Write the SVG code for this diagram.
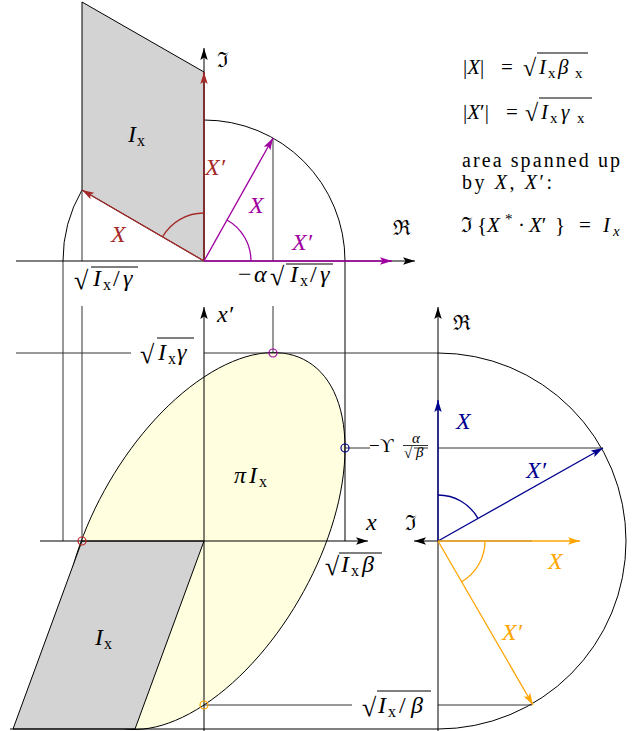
<svg xmlns="http://www.w3.org/2000/svg" width="639" height="731" viewBox="0 0 639 731">
<style>
text{font-family:"Liberation Serif","DejaVu Serif",serif;font-size:24px;fill:#000}
.f{font-size:21px}
.i{font-style:italic}
.s{font-size:16px}
.fs{font-size:15px}
.rt{font-size:26px}
.fr{font-family:"DejaVu Serif","Liberation Serif",serif;font-size:21px}
.ax{stroke:#000;stroke-width:1;fill:none}
.cn{stroke:#333;stroke-width:1;fill:none}
.bar{stroke:#000;stroke-width:1.1}
.red{stroke:#a52a2a;stroke-width:1.3;fill:none}
.pur{stroke:#a000a0;stroke-width:1.3;fill:none}
.blu{stroke:#000090;stroke-width:1.3;fill:none}
.org{stroke:#ffa500;stroke-width:1.3;fill:none}
</style>
<defs>
<marker id="mk" viewBox="0 0 12 8" markerWidth="12" markerHeight="8" refX="12" refY="4" orient="auto" markerUnits="userSpaceOnUse"><path d="M0,0.3 L12,4 L0,7.7 L2.5,4 z" fill="#000"/></marker>
<marker id="mr" viewBox="0 0 12 8" markerWidth="12" markerHeight="8" refX="12" refY="4" orient="auto" markerUnits="userSpaceOnUse"><path d="M0,0.3 L12,4 L0,7.7 L2.5,4 z" fill="#a52a2a"/></marker>
<marker id="mp" viewBox="0 0 12 8" markerWidth="12" markerHeight="8" refX="12" refY="4" orient="auto" markerUnits="userSpaceOnUse"><path d="M0,0.3 L12,4 L0,7.7 L2.5,4 z" fill="#a000a0"/></marker>
<marker id="mb" viewBox="0 0 12 8" markerWidth="12" markerHeight="8" refX="12" refY="4" orient="auto" markerUnits="userSpaceOnUse"><path d="M0,0.3 L12,4 L0,7.7 L2.5,4 z" fill="#000090"/></marker>
<marker id="mo" viewBox="0 0 12 8" markerWidth="12" markerHeight="8" refX="12" refY="4" orient="auto" markerUnits="userSpaceOnUse"><path d="M0,0.3 L12,4 L0,7.7 L2.5,4 z" fill="#ffa500"/></marker>
</defs>

<g id="top-phasor">
<polygon points="204,261 82,190 82,2 204,72" fill="#d3d3d3" stroke="#000" stroke-width="1"/>
<path class="ax" d="M204,120 A141,141 0 0 1 345,261"/>
<path class="ax" d="M82,190 A141,141 0 0 0 63,261"/>
</g>

<g id="ellipse">
<path d="M345,448.2 C345,538.78 281.87,653.75 204,705 C126.13,756.25 63,724.38 63,633.8 C63,543.22 126.13,428.25 204,377 C281.87,325.75 345,357.62 345,448.2 Z" fill="#ffffe0" stroke="#000" stroke-width="1"/>
<polygon points="204,541 82,541 13,729 135,729" fill="#d3d3d3" stroke="#000" stroke-width="1"/>
</g>

<g id="right-phasor">
<path class="ax" d="M438,353 A188,188 0 0 1 626,541 A188,188 0 0 1 438,729"/>
</g>

<g id="connectors">
<line class="cn" x1="63" y1="261" x2="63" y2="541"/>
<line class="cn" x1="82" y1="190" x2="82" y2="261"/>
<line class="cn" x1="82" y1="306" x2="82" y2="541"/>
<line class="cn" x1="273" y1="138" x2="273" y2="261"/>
<line class="cn" x1="273" y1="306" x2="273" y2="353"/>
<line class="ax" x1="345" y1="261" x2="345" y2="541"/>
<line class="cn" x1="16" y1="353" x2="131" y2="353"/>
<line class="cn" x1="204" y1="353" x2="438" y2="353"/>
<line class="cn" x1="345" y1="448" x2="370" y2="448"/>
<line class="cn" x1="438" y1="448" x2="603" y2="448"/>
<line class="cn" x1="204" y1="705" x2="352" y2="705"/>
<line class="cn" x1="438" y1="705" x2="532" y2="705"/>
<line class="ax" x1="10" y1="729" x2="438" y2="729"/>
<line class="ax" x1="16" y1="261" x2="415" y2="261" marker-end="url(#mk)"/>
<line class="ax" x1="204" y1="261" x2="204" y2="48" marker-end="url(#mk)"/>
<line class="pur" x1="204" y1="261" x2="392" y2="261" marker-end="url(#mp)"/>
<line class="red" x1="204" y1="261" x2="204" y2="72" marker-end="url(#mr)"/>
<line class="red" x1="204" y1="261" x2="82" y2="190" marker-end="url(#mr)"/>
<path class="red" d="M204,213 A48,48 0 0 0 162.5,236.8"/>
<line class="pur" x1="204" y1="261" x2="273" y2="138" marker-end="url(#mp)"/>
<path class="pur" d="M251,261 A47,47 0 0 0 227,220"/>
<line class="ax" x1="40" y1="541" x2="368" y2="541" marker-end="url(#mk)"/>
<line class="ax" x1="204" y1="731" x2="204" y2="307" marker-end="url(#mk)"/>
<line class="ax" x1="438" y1="731" x2="438" y2="307" marker-end="url(#mk)"/>
<line class="ax" x1="438" y1="541" x2="414" y2="541" marker-end="url(#mk)"/>
<line class="blu" x1="438" y1="541" x2="438" y2="400" marker-end="url(#mb)"/>
<line class="blu" x1="438" y1="541" x2="603" y2="448" marker-end="url(#mb)"/>
<path class="blu" d="M438,495 A46,46 0 0 1 478,518.4"/>
<line class="org" x1="438" y1="541" x2="580" y2="541" marker-end="url(#mo)"/>
<line x1="438" y1="541" x2="532" y2="541" stroke="#000" stroke-opacity="0.15" stroke-width="1.3"/>
<line class="org" x1="438" y1="541" x2="533" y2="705" marker-end="url(#mo)"/>
<path class="org" d="M485,541 A47,47 0 0 1 461.6,581.7"/>
<circle cx="82" cy="541" r="4" fill="none" stroke="#c02020" stroke-width="1.2"/>
<circle cx="273" cy="353" r="4" fill="none" stroke="#a000a0" stroke-width="1.2"/>
<circle cx="345" cy="448" r="4" fill="none" stroke="#000090" stroke-width="1.2"/>
<circle cx="204" cy="705" r="4" fill="none" stroke="#ffa500" stroke-width="1.2"/>
</g>

<g id="labels">
<text x="463" y="74" class="f">|<tspan class="i">X</tspan>|</text>
<text x="501" y="74" class="f">=</text>
<text x="523" y="76" style="font-size:24px">√</text>
<line class="bar" x1="537" y1="53" x2="588" y2="53"/>
<text x="539" y="74" class="f i">I</text><text x="548" y="78" class="fs">x</text>
<text x="558" y="74" class="f i">β</text><text x="575" y="78" class="fs">x</text>

<text x="463" y="119" class="f">|<tspan class="i">X</tspan>′|</text>
<text x="506" y="119" class="f">=</text>
<text x="525" y="121" style="font-size:24px">√</text>
<line class="bar" x1="539" y1="98" x2="592" y2="98"/>
<text x="541" y="119" class="f i">I</text><text x="550" y="123" class="fs">x</text>
<text x="561" y="119" class="f i">γ</text><text x="577" y="123" class="fs">x</text>

<text x="462" y="167" style="font-size:20px" textLength="158" lengthAdjust="spacing">area spanned up</text>
<text x="462" y="189" style="font-size:20px" textLength="90" lengthAdjust="spacing">by <tspan class="i">X</tspan>, <tspan class="i">X</tspan>′:</text>

<text x="461" y="232" class="fr">ℑ</text>
<text x="477" y="232" class="f">{</text>
<text x="487" y="232" class="f i">X</text>
<text x="505" y="224" class="fs">*</text>
<text x="518" y="232" class="f">·</text>
<text x="529" y="232" class="f"><tspan class="i">X</tspan>′</text>
<text x="555" y="232" class="f">}</text>
<text x="579" y="232" class="f">=</text>
<text x="603" y="232" class="f i">I</text><text x="613" y="236" class="fs i">x</text>

<text x="128" y="142" class="i">I</text><text x="137" y="146" class="s">x</text>
<text x="217" y="67" class="fr">ℑ</text>
<text x="393" y="235" class="fr">ℜ</text>
<text x="205" y="175" class="i" style="fill:#a52a2a">X′</text>
<text x="111" y="242" class="i" style="fill:#a52a2a">X</text>
<text x="249" y="213" class="i" style="fill:#a000a0">X</text>
<text x="292" y="250" class="i" style="fill:#a000a0">X′</text>

<text x="74" y="289" class="rt">√</text>
<line class="bar" x1="91" y1="267" x2="138" y2="267"/>
<text x="93" y="286" class="i">I</text><text x="103" y="290" class="s">x</text>
<text x="113" y="286">/</text><text x="123" y="286" class="i">γ</text>

<text x="238" y="282">−</text><text x="254" y="282" class="i">α</text>
<text x="270" y="285" class="rt">√</text>
<line class="bar" x1="286" y1="264" x2="333" y2="264"/>
<text x="290" y="282" class="i">I</text><text x="300" y="286" class="s">x</text>
<text x="310" y="282">/</text><text x="320" y="282" class="i">γ</text>

<text x="217" y="322" class="i">x′</text>
<text x="140" y="363" class="rt">√</text>
<line class="bar" x1="157" y1="338" x2="194" y2="338"/>
<text x="158" y="360" class="i">I</text><text x="168" y="364" class="s">x</text>
<text x="177" y="360" class="i">γ</text>

<text x="234" y="483" class="i">π</text>
<text x="249" y="483" class="i">I</text><text x="259" y="487" class="s">x</text>
<text x="366" y="530" class="i">x</text>

<text x="325" y="575" class="rt">√</text>
<line class="bar" x1="339" y1="553" x2="382" y2="553"/>
<text x="341" y="572" class="i">I</text><text x="351" y="576" class="s">x</text>
<text x="362" y="572" class="i">β</text>

<text x="369" y="452" style="font-size:19px">−ϒ</text>
<text x="412" y="443" class="fs i">α</text>
<line class="bar" x1="403" y1="445.5" x2="428" y2="445.5" style="stroke-width:0.8"/>
<text x="404" y="458" style="font-size:15px">√</text>
<line class="bar" x1="414" y1="448" x2="428" y2="448" style="stroke-width:0.8"/>
<text x="416" y="457" class="fs i">β</text>

<text x="95" y="645" class="i">I</text><text x="104" y="649" class="s">x</text>

<text x="362" y="716" class="rt">√</text>
<line class="bar" x1="377" y1="691" x2="431" y2="691"/>
<text x="378" y="713" class="i">I</text><text x="388" y="717" class="s">x</text>
<text x="399" y="713">/</text><text x="411" y="713" class="i">β</text>

<text x="453" y="330" class="fr">ℜ</text>
<text x="405" y="530" class="fr">ℑ</text>
<text x="456" y="429" class="i" style="fill:#000090">X</text>
<text x="526" y="478" class="i" style="fill:#000090">X′</text>
<text x="548" y="569" class="i" style="fill:#ffa500">X</text>
<text x="502" y="640" class="i" style="fill:#ffa500">X′</text>
</g>
</svg>
